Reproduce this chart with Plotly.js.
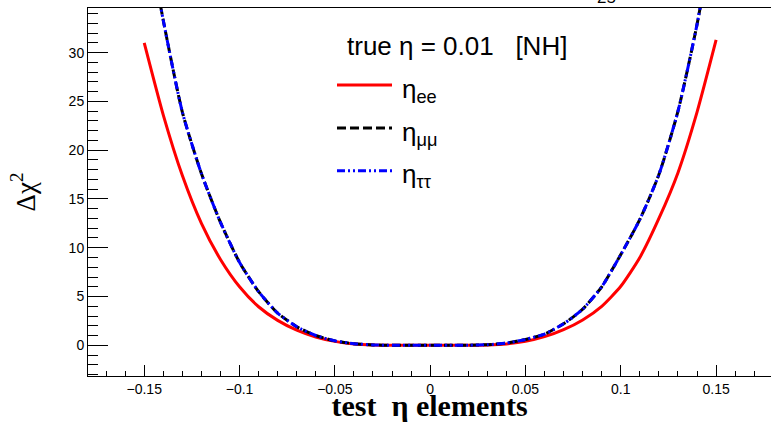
<!DOCTYPE html>
<html>
<head>
<meta charset="utf-8">
<script src="https://cdn.plot.ly/plotly-3.0.1.min.js"></script>
<style>html,body{margin:0;padding:0;background:#fff;}#chart{width:771px;height:422px;}</style>
</head>
<body>
<div id="chart"></div>
<script>
// test eta values
const etaTest = [-0.15,-0.14,-0.13,-0.12,-0.11,-0.10,-0.09,-0.08,-0.07,-0.06,-0.05,-0.04,-0.03,-0.02,-0.01,0,
                 0.01,0.02,0.03,0.04,0.05,0.06,0.07,0.08,0.09,0.10,0.11,0.12,0.13,0.14,0.15];
// delta chi^2 for eta_ee
const chiEE = [31.0,23.6,17.4,12.5,8.8,6.0,3.95,2.55,1.55,0.85,0.40,0.14,0.03,0.0,0.0,0.0,
               0.0,0.0,0.03,0.14,0.40,0.88,1.60,2.60,4.0,6.05,9.0,13.0,17.7,23.9,31.3];
// delta chi^2 for eta_mumu
const chiMM = [44.0,33.3,23.9,17.6,12.6,8.5,5.5,3.3,1.9,1.0,0.45,0.16,0.04,0.0,0.0,0.0,
               0.0,0.01,0.06,0.22,0.60,1.15,2.2,3.7,6.0,9.3,12.9,17.5,24.0,32.9,44.0];
// delta chi^2 for eta_tautau
const chiTT = [44.0,33.3,23.9,17.6,12.6,8.5,5.5,3.3,1.9,1.0,0.45,0.16,0.04,0.0,0.0,0.0,
               0.0,0.01,0.06,0.22,0.60,1.15,2.2,3.7,6.0,9.3,12.9,17.5,24.0,32.9,44.0];

const seriesNames = ['η<sub>ee</sub>','η<sub>μμ</sub>','η<sub>ττ</sub>'];
const legendTitle = 'true η = 0.01\u00a0\u00a0\u00a0[NH]';
const xTitle = 'test\u00a0\u00a0η elements';
const yTitle = 'Δχ<sup>2</sup>';

const colors = ['#ff0000','#000000','#0000ff'];
const dashes = ['solid','9px,4px','8px,3px,2px,3px,2px,3px'];

const traces = [chiEE, chiMM, chiTT].map((ys,i)=>({
  x: etaTest, y: ys, type:'scatter', mode:'lines', name: seriesNames[i],
  line:{color:colors[i], width:3, dash:dashes[i], shape:'spline', smoothing:0.6},
  showlegend:false, hoverinfo:'skip'
}));

// legend geometry (pixel -> paper)
const L=88, R=771, T=8, B=376;
const px = v => (v-L)/(R-L);
const py = v => (B-v)/(B-T);
const legY = [85,128,170.7];
const shapes = legY.map((y,i)=>({type:'line', xref:'paper', yref:'paper',
  x0:px(337), x1:px(392), y0:py(y), y1:py(y),
  line:{color:colors[i], width:3, dash:dashes[i]}}));

const annotations = [
  {text:legendTitle, xref:'paper', yref:'paper', x:px(345), y:py(46), xanchor:'left', yanchor:'middle',
   showarrow:false, font:{family:'Liberation Sans, Arial', size:26, color:'#000'}},
  {text:'25', xref:'paper', yref:'paper', x:px(606), y:1, xanchor:'center', yanchor:'bottom', yshift:-1,
   showarrow:false, font:{family:'Liberation Sans, Arial', size:17, color:'#000'}}
];
legY.forEach((y,i)=>annotations.push({text:seriesNames[i], xref:'paper', yref:'paper', x:px(400), y:py(y+5),
  xanchor:'left', yanchor:'middle', showarrow:false, font:{family:'Liberation Sans, Arial', size:26, color:'#000'}}));

const layout = {
  width:771, height:422,
  margin:{l:L, r:771-R, t:T, b:422-B, pad:0},
  paper_bgcolor:'#fff', plot_bgcolor:'#fff',
  showlegend:false,
  xaxis:{range:[-0.1795,0.1788], tick0:0, dtick:0.05, ticks:'inside', ticklen:11, tickcolor:'#000', tickwidth:1,
    minor:{dtick:0.01, ticks:'inside', ticklen:5.5, tickcolor:'#000', tickwidth:1},
    showgrid:false, zeroline:false, showline:true, linecolor:'#000', linewidth:1, mirror:true,
    tickfont:{family:'Liberation Sans, Arial', size:14, color:'#000'},
    title:{text:xTitle, font:{family:'Liberation Serif, Times New Roman', size:30, color:'#000', weight:'bold'}, standoff:3}},
  yaxis:{range:[-3.15,34.58], tick0:0, dtick:5, ticks:'inside', ticklen:20, tickcolor:'#000', tickwidth:1,
    minor:{dtick:1, ticks:'inside', ticklen:10, tickcolor:'#000', tickwidth:1},
    showgrid:false, zeroline:false, showline:true, linecolor:'#000', linewidth:1,
    tickfont:{family:'Liberation Sans, Arial', size:14, color:'#000'},
    title:{text:yTitle, font:{family:'Liberation Serif, Times New Roman', size:27, color:'#000'}, standoff:25}},
  shapes:shapes, annotations:annotations
};

Plotly.newPlot('chart', traces, layout, {staticPlot:true, displayModeBar:false});
</script>
</body>
</html>
